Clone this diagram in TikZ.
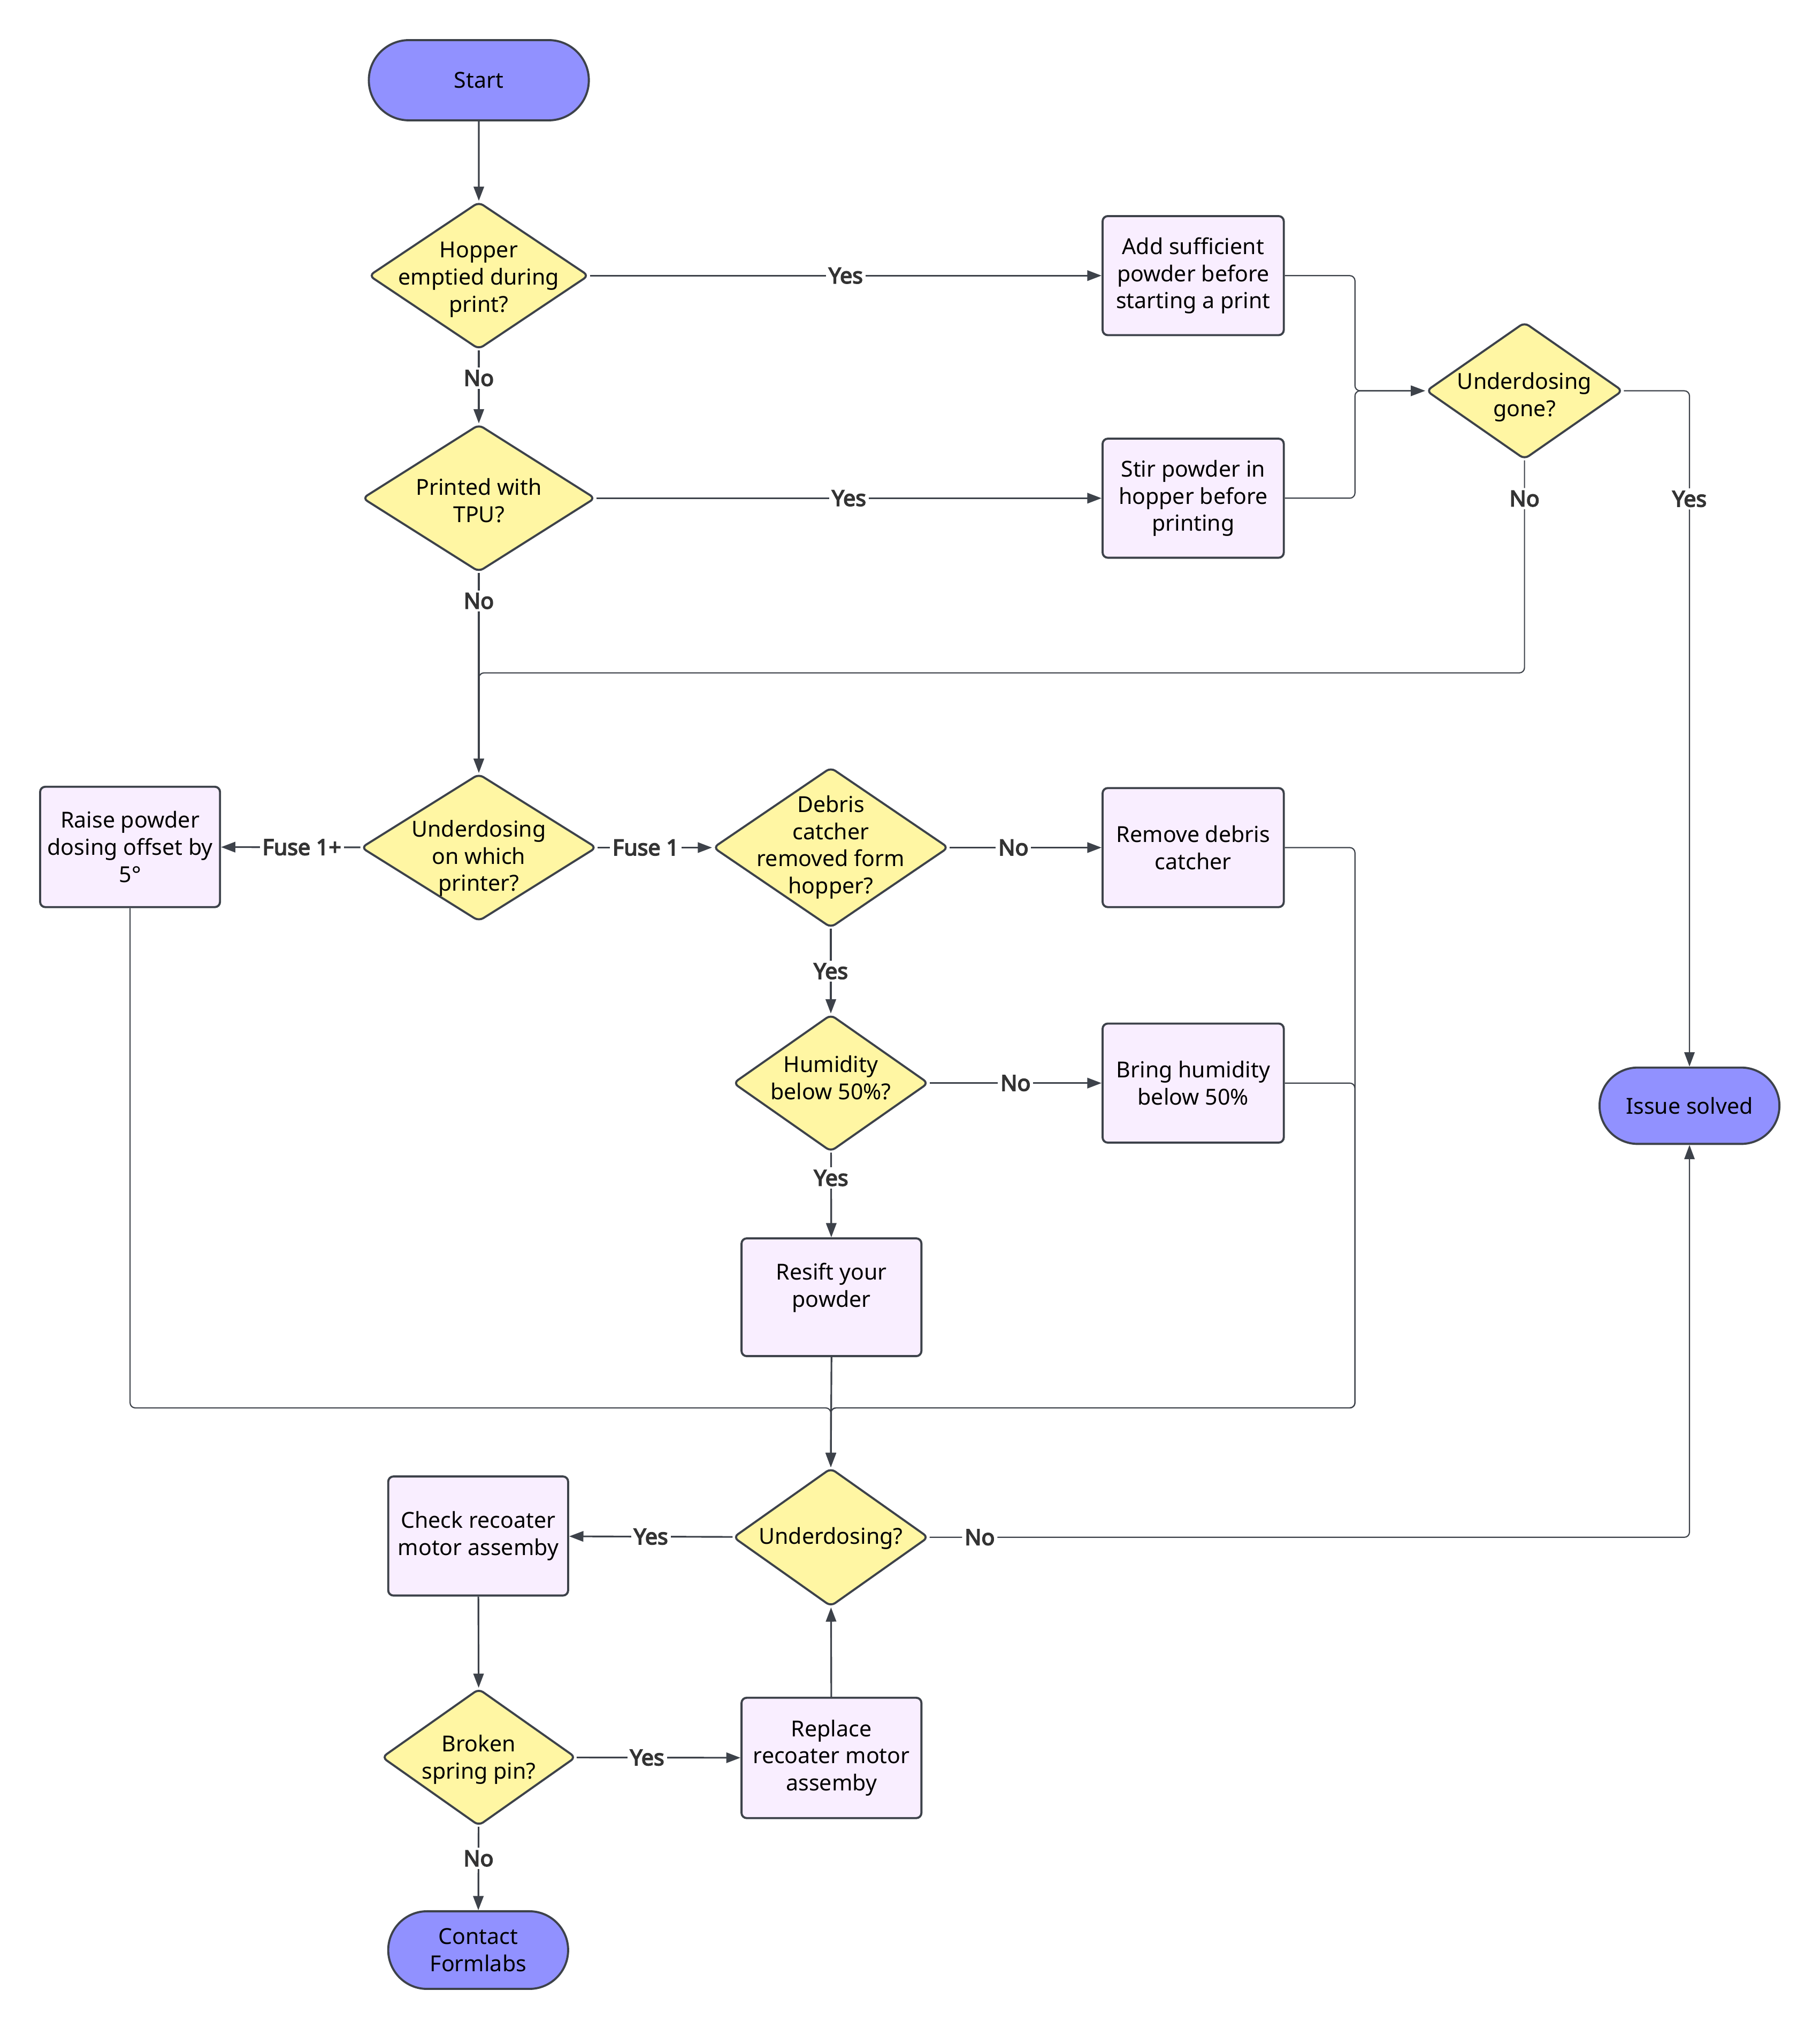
\documentclass[tikz,border=0pt]{standalone}
\usepackage{fontspec}
\setmainfont{Noto Sans}
\newfontfamily\lblfont{Noto Sans}[FakeBold=4]
\usetikzlibrary{arrows.meta,shapes.geometric,shapes.misc}
\definecolor{lc}{HTML}{3D424A}
\definecolor{termfill}{HTML}{9191FF}
\definecolor{boxfill}{HTML}{F9EEFF}
\definecolor{diafill}{HTML}{FFF6A3}
\definecolor{lblc}{HTML}{333333}
\newcommand{\dtxt}[2][0pt]{\makebox[0pt][c]{\raisebox{\dimexpr-4.25pt-#1\relax}[0pt][0pt]{\begin{tabular}{@{}c@{}}#2\end{tabular}}}}
\begin{document}
\begin{tikzpicture}[x=1pt,y=-1pt,
  font=\fontsize{17}{21}\selectfont,
  term/.style={rounded rectangle, draw=lc, line width=1.6pt, fill=termfill, align=center, inner sep=0pt},
  stepbox/.style={rectangle, rounded corners=4pt, draw=lc, line width=1.6pt, fill=boxfill, align=center, inner sep=0pt, minimum width=140pt, minimum height=92pt},
  dia/.style={diamond, rounded corners=4pt, draw=lc, line width=1.6pt, fill=diafill, inner sep=0pt},
  arr/.style={draw=lc, line width=1.3pt, -{Triangle[length=11pt,width=8pt]}},
  thinarr/.style={draw=lc, line width=0.9pt, rounded corners=4pt, -{Triangle[length=11pt,width=8pt]}},
  lbl/.style={fill=white, text=lblc, font=\fontsize{17}{21}\lblfont, inner sep=2pt}
]
\useasboundingbox (0,0) rectangle (1406,1568);

% nodes
\node[term, minimum width=170pt, minimum height=62pt] (start) at (370,62) {Start};
\node[dia, minimum width=170pt, minimum height=114pt] (d1) at (370,213) {\dtxt[3pt]{Hopper\\emptied during\\print?}};
\node[dia, minimum width=180pt, minimum height=114pt] (d2) at (370,385) {\dtxt[4pt]{Printed with\\TPU?}};
\node[stepbox] (b1) at (922,213) {Add sufficient\\powder before\\starting a print};
\node[stepbox] (b2) at (922,385) {Stir powder in\\hopper before\\printing};
\node[dia, minimum width=152pt, minimum height=106pt] (d3) at (1178,302) {\dtxt[5pt]{Underdosing\\gone?}};
\node[dia, minimum width=182pt, minimum height=114pt] (d4) at (370,655) {\dtxt[8.5pt]{Underdosing\\on which\\printer?}};
\node[stepbox, minimum width=139pt, minimum height=93pt] (b3) at (100.5,654.5) {Raise powder\\dosing offset by\\5°};
\node[dia, minimum width=182pt, minimum height=124pt] (d5) at (642,655) {\dtxt{Debris\\catcher\\removed form\\hopper?}};
\node[stepbox] (b4) at (922,655) {Remove debris\\catcher};
\node[dia, minimum width=151pt, minimum height=106pt] (d6) at (642,837) {\dtxt[-2pt]{Humidity\\below 50\%?}};
\node[stepbox] (b5) at (922,837) {Bring humidity\\below 50\%};
\node[stepbox, minimum width=139pt, minimum height=91pt] (b6) at (642.5,1002.5) {};
\node[align=center, inner sep=0pt] (b6t) at (642.5,995) {Resift your\\powder};
\node[term, minimum width=139pt, minimum height=59pt] (issue) at (1305.5,854.5) {Issue solved};
\node[dia, minimum width=151pt, minimum height=107pt] (d7) at (642,1188) {\dtxt[1pt]{Underdosing?}};
\node[stepbox, minimum width=139pt] (b7) at (369.5,1187) {Check recoater\\motor assemby};
\node[dia, minimum width=150pt, minimum height=106pt] (d8) at (370,1358) {\dtxt[2pt]{Broken\\spring pin?}};
\node[stepbox, minimum width=139pt, minimum height=93pt] (b8) at (642.5,1358.5) {Replace\\recoater motor\\assemby};
\node[term, minimum width=139pt, minimum height=60pt] (contact) at (369.5,1507) {Contact\\Formlabs};

% helper coordinates
\coordinate (m1) at (1047,302);
\coordinate (m2) at (1047,1088);
\coordinate (j) at (642,1088);
\coordinate (m3) at (1178,520);

% connectors
\draw[arr] (start) -- (d1);
\draw[arr] (d1) -- node[lbl]{Yes} (b1);
\draw[arr] (d1) -- node[lbl,pos=0.38]{No} (d2);
\draw[arr] (d2) -- node[lbl]{Yes} (b2);
\draw[arr] (d2) -- node[lbl,pos=0.14]{No} (d4);
\draw[thinarr] (b1.east) -| (m1) -- (d3.west);
\draw[thinarr] (b2.east) -| (m1) -- (d3.west);
\draw[thinarr] (d3.south) -- node[lbl,pos=0.18]{No} (m3) -| (d4.north);
\draw[thinarr] (d3.east) -| node[lbl,pos=0.58]{Yes} (issue.north);
\draw[arr] (d4) -- node[lbl,pos=0.42]{Fuse 1+} (b3);
\draw[arr] (d4) -- node[lbl,pos=0.42]{Fuse 1} (d5);
\draw[arr] (d5) -- node[lbl,pos=0.42]{No} (b4);
\draw[arr] (d5) -- node[lbl]{Yes} (d6);
\draw[arr] (d6) -- node[lbl]{No} (b5);
\draw[arr] (d6) -- node[lbl,pos=0.3]{Yes} (b6);
\draw[thinarr] (b3.south) |- (j) -- (d7.north);
\draw[thinarr] (b4.east) -| (m2) -- (j) -- (d7.north);
\draw[thinarr] (b5.east) -| (m2) -- (j) -- (d7.north);
\draw[arr] (b6.south) -- (d7.north);
\draw[arr] (d7) -- node[lbl]{Yes} (b7);
\draw[thinarr] (d7.east) -| node[lbl,pos=0.033]{No} (issue.south);
\draw[arr] (b7) -- (d8);
\draw[arr] (d8) -- node[lbl,pos=0.43]{Yes} (b8);
\draw[arr] (d8) -- node[lbl,pos=0.38]{No} (contact);
\draw[arr] (b8) -- (d7);
\end{tikzpicture}
\end{document}
